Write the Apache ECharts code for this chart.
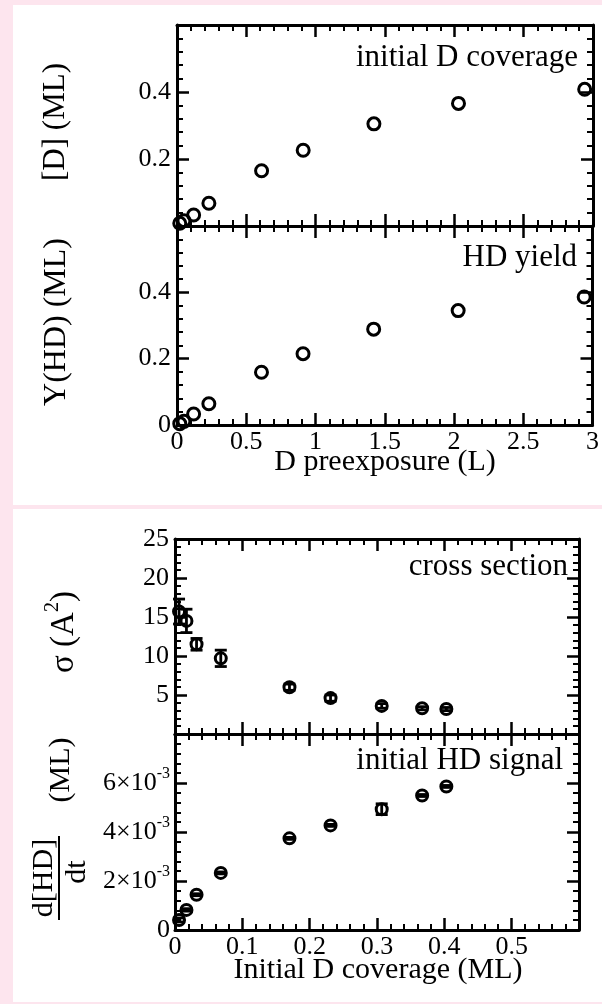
<!DOCTYPE html>
<html>
<head>
<meta charset="utf-8">
<script src="https://cdn.jsdelivr.net/npm/echarts@6/dist/echarts.min.js"></script>
<style>
html,body{margin:0;padding:0;background:#fde5ee;}
#c{width:602px;height:1004px;}
</style>
</head>
<body>
<div id="c"></div>
<script>
// ---- data ----
const exposureL   = [0.02, 0.05, 0.12, 0.23, 0.61, 0.91, 1.42, 2.03, 2.94];
const coverageD   = [0.008, 0.016, 0.033, 0.068, 0.165, 0.226, 0.305, 0.366, 0.408];
const yieldHD     = [0.004, 0.011, 0.033, 0.064, 0.159, 0.215, 0.289, 0.345, 0.386];

const initCov     = [0.006, 0.017, 0.032, 0.068, 0.170, 0.231, 0.307, 0.367, 0.403];
const sigma       = [15.7, 14.5, 11.5, 9.7, 6.0, 4.6, 3.6, 3.3, 3.2];
const sigmaErr    = [1.6, 1.5, 0.75, 1.05, 0.4, 0.4, 0.3, 0.2, 0.2];
const dHDdt       = [0.00041, 0.00082, 0.00144, 0.00233, 0.00374, 0.00427, 0.00493, 0.00549, 0.00586];
const dHDdtErr    = [0.00008, 0.00005, 0.00004, 0.00004, 0.00004, 0.00004, 0.00022, 0.00004, 0.00004];

const xTicks1 = [0, 0.5, 1, 1.5, 2, 2.5, 3];
const yTicks1 = [0, 0.2, 0.4, 0.6];
const xTicks2 = [0, 0.1, 0.2, 0.3, 0.4, 0.5, 0.6];
const sigmaTicks = [0, 5, 10, 15, 20, 25];
const dHDTicks = [0, 0.002, 0.004, 0.006, 0.008];

const FONT = '"Liberation Serif", "Times New Roman", serif';
const BLACK = '#000';

function fmtNum(v){ return String(Math.round(v*1000)/1000); }

function axisCommon(extra){
  return Object.assign({
    type:'value',
    axisLine:{show:true, onZero:false, lineStyle:{color:BLACK, width:3}},
    axisTick:{show:true, inside:true, length:12, lineStyle:{color:BLACK, width:2.5}},
    minorTick:{show:true, splitNumber:5, length:6, lineStyle:{color:BLACK, width:2}},
    splitLine:{show:false},
    axisLabel:{show:false},
    z: 5
  }, extra);
}
function labelStyle(fmt, margin, rich){
  const o = {show:true, color:BLACK, fontFamily:FONT, fontSize:26, margin:margin, formatter:fmt};
  if (rich) o.rich = rich;
  return o;
}

const xAxis = [];
const yAxis = [];
function addGrid(gi, xr, yr, xLab, yLab){
  xAxis.push(axisCommon({gridIndex:gi, position:'bottom', min:xr[0], max:xr[xr.length-1], interval:xr[1]-xr[0],
    axisLabel: xLab ? xLab : {show:false}}));
  xAxis.push(axisCommon({gridIndex:gi, position:'top', min:xr[0], max:xr[xr.length-1], interval:xr[1]-xr[0]}));
  yAxis.push(axisCommon({gridIndex:gi, position:'left', min:yr[0], max:yr[yr.length-1], interval:yr[1]-yr[0],
    axisLabel: yLab ? yLab : {show:false}}));
  yAxis.push(axisCommon({gridIndex:gi, position:'right', min:yr[0], max:yr[yr.length-1], interval:yr[1]-yr[0]}));
}

addGrid(0, xTicks1, yTicks1, null,
  labelStyle(v => (v > 0.1 && v < 0.5) ? fmtNum(v) : '', 6));
addGrid(1, xTicks1, yTicks1,
  labelStyle(v => fmtNum(v), 4),
  labelStyle(v => (v < 0.5) ? fmtNum(v) : '', 6));
addGrid(2, xTicks2, sigmaTicks, null,
  labelStyle(v => v > 0 ? String(v) : '', 6));
addGrid(3, xTicks2, dHDTicks,
  labelStyle(v => v < 0.55 ? fmtNum(v) : '', 4),
  labelStyle(v => {
    if (v === 0) return '0';
    if (v > 0.0075) return '';
    return '{b|' + Math.round(v*1000) + '×10}{s|-3}';
  }, 5, {
    b:{fontFamily:FONT, fontSize:26, lineHeight:34, color:BLACK},
    s:{fontFamily:FONT, fontSize:16, lineHeight:16, verticalAlign:'top', color:BLACK}
  }));

const grid = [
  {left:177, top:25, width:416, height:201},
  {left:177, top:226, width:416, height:199},
  {left:175, top:539, width:404, height:195},
  {left:175, top:734, width:404, height:196}
];

function scatterSeries(xa, ya, xs, ys, size){
  return {
    type:'scatter', xAxisIndex:xa, yAxisIndex:ya,
    data: xs.map((x,i)=>[x, ys[i]]),
    symbol:'circle', symbolSize:size,
    itemStyle:{color:'rgba(0,0,0,0)', borderColor:BLACK, borderWidth:3, opacity:1},
    z: 10, silent:true
  };
}
function errSeries(xa, ya, xs, ys, es){
  return {
    type:'custom', xAxisIndex:xa, yAxisIndex:ya,
    data: xs.map((x,i)=>[x, ys[i]-es[i], ys[i]+es[i]]),
    renderItem: function(params, api){
      const x = api.value(0);
      const lo = api.coord([x, api.value(1)]);
      const hi = api.coord([x, api.value(2)]);
      const cap = 6;
      const st = {stroke:BLACK, lineWidth:2.8};
      return {type:'group', children:[
        {type:'line', shape:{x1:lo[0], y1:lo[1], x2:hi[0], y2:hi[1]}, style:st},
        {type:'line', shape:{x1:lo[0]-cap, y1:lo[1], x2:lo[0]+cap, y2:lo[1]}, style:st},
        {type:'line', shape:{x1:hi[0]-cap, y1:hi[1], x2:hi[0]+cap, y2:hi[1]}, style:st}
      ]};
    },
    z: 11, silent:true
  };
}

const series = [
  scatterSeries(0, 0, exposureL, coverageD, 12),
  scatterSeries(2, 2, exposureL, yieldHD, 12),
  errSeries(4, 4, initCov, sigma, sigmaErr),
  scatterSeries(4, 4, initCov, sigma, 11),
  errSeries(6, 6, initCov, dHDdt, dHDdtErr),
  scatterSeries(6, 6, initCov, dHDdt, 11)
];

function txt(x, y, text, size, align, rot){
  return {type:'text', x:x, y:y, rotation:rot||0, z:100, silent:true,
    style:{text:text, fontFamily:FONT, fontSize:size, font: size+'px '+FONT, fill:BLACK,
      textAlign:align||'center', align:align||'center', textVerticalAlign:'middle', verticalAlign:'middle'}};
}

const graphic = [
  {type:'rect', z:-100, silent:true, shape:{x:13, y:5, width:589, height:500}, style:{fill:'#fff'}},
  {type:'rect', z:-100, silent:true, shape:{x:13, y:509, width:589, height:493}, style:{fill:'#fff'}},
  txt(578, 58, 'initial D coverage', 31, 'right'),
  txt(577, 258, 'HD yield', 31, 'right'),
  txt(568, 567, 'cross section', 31, 'right'),
  txt(563, 761, 'initial HD signal', 31, 'right'),
  txt(385, 462, 'D preexposure (L)', 30, 'center'),
  txt(378, 970, 'Initial D coverage (ML)', 30, 'center'),
  txt(56, 122, '[D] (ML)', 31, 'center', Math.PI/2),
  txt(57, 322, 'Y(HD) (ML)', 32, 'center', Math.PI/2),
  {type:'text', x:64, y:632, rotation:Math.PI/2, z:100, silent:true,
    style:{text:'{n|σ (A}{s|2}{n|)}', fill:BLACK, textAlign:'center', align:'center', textVerticalAlign:'middle', verticalAlign:'middle',
      rich:{n:{fontFamily:FONT, fontSize:33, lineHeight:42, fill:BLACK, color:BLACK},
            s:{fontFamily:FONT, fontSize:20, lineHeight:20, verticalAlign:'top', fill:BLACK, color:BLACK}}}},
  {type:'group', x:59, y:878, rotation:Math.PI/2, z:100, silent:true, children:[
    {type:'text', x:0, y:-15, z:100, style:{text:'d[HD]', fontFamily:FONT, fontSize:30, font:'30px '+FONT, fill:BLACK, textAlign:'center', align:'center', textVerticalAlign:'middle', verticalAlign:'middle'}},
    {type:'line', z:100, shape:{x1:-42, y1:0, x2:42, y2:0}, style:{stroke:BLACK, lineWidth:2}},
    {type:'text', x:6, y:18, z:100, style:{text:'dt', fontFamily:FONT, fontSize:30, font:'30px '+FONT, fill:BLACK, textAlign:'center', align:'center', textVerticalAlign:'middle', verticalAlign:'middle'}},
    {type:'text', x:108, y:2, z:100, style:{text:'(ML)', fontFamily:FONT, fontSize:30, font:'30px '+FONT, fill:BLACK, textAlign:'center', align:'center', textVerticalAlign:'middle', verticalAlign:'middle'}}
  ]}
];

const chart = echarts.init(document.getElementById('c'), null, {renderer:'canvas'});
chart.setOption({
  backgroundColor:'#fde5ee',
  animation:false,
  grid: grid,
  xAxis: xAxis,
  yAxis: yAxis,
  series: series,
  graphic: graphic
});
</script>
</body>
</html>
